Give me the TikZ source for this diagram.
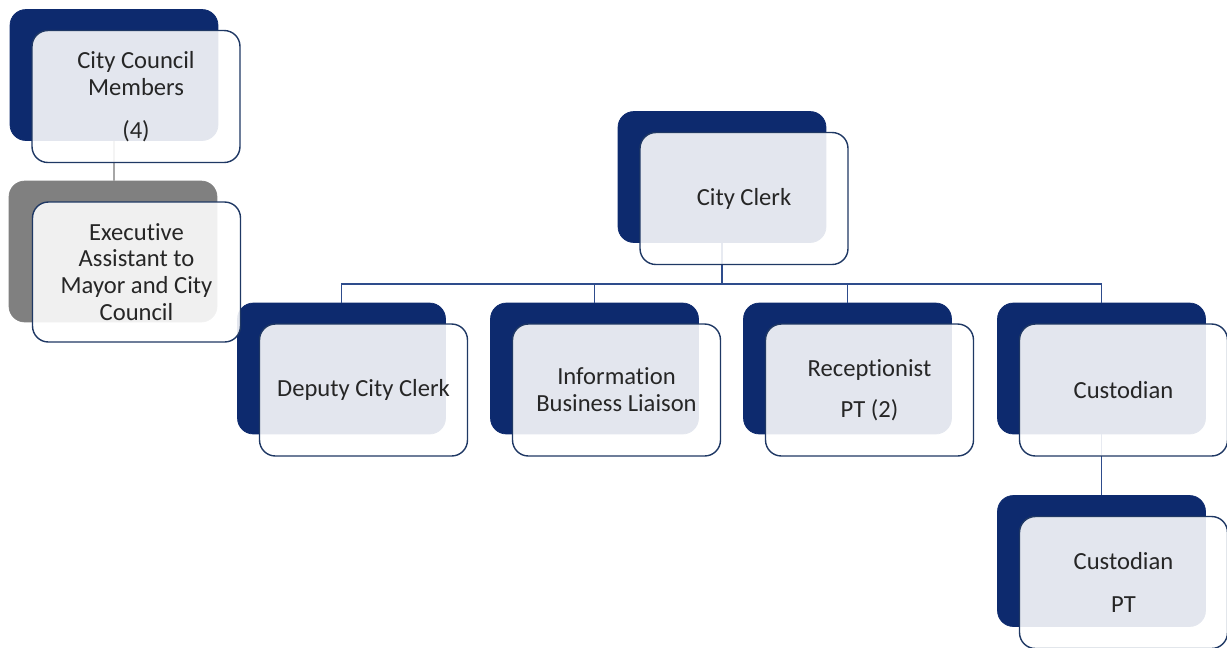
\documentclass[tikz,border=0pt]{standalone}
\usepackage{fontspec}
\setmainfont{Carlito}[Ligatures={NoCommon,NoContextual,NoRequired},Contextuals=NoAlternate]
\usepackage{xcolor}
\usepackage{tikz}
\usetikzlibrary{calc}
\definecolor{navy}{HTML}{0D2A6E}
\definecolor{edge}{HTML}{1F3864}
\definecolor{wire}{HTML}{2E4C8C}
\definecolor{ash}{HTML}{808080}
\definecolor{wireash}{HTML}{A6A6A6}
\definecolor{txt}{HTML}{262626}
\tikzset{
  back/.style={draw=navy, fill=navy, rounded corners=9pt, minimum width=4.16cm, minimum height=2.62cm, inner sep=0pt},
  backash/.style={back, draw=ash, fill=ash, minimum height=2.82cm},
  front/.style={draw=edge, line width=0.8pt, fill=white, fill opacity=0.885, text opacity=1, rounded corners=9pt,
    minimum width=4.16cm, minimum height=2.64cm, inner sep=0pt, align=center, text=txt,
    font=\fontsize{14}{15.3}\selectfont},
  frontash/.style={front, minimum height=2.8cm},
  wire/.style={draw=wire, line width=0.9pt},
  wireg/.style={draw=wireash, line width=0.9pt}
}

\begin{document}
\begin{tikzpicture}[x=0.02cm, y=-0.02cm]
  \useasboundingbox (0,0) rectangle (1227,647);
  % back plates
  \node[back] (councilb) at (114,75) {};
  \node[backash] (execb) at (113,251.5) {};
  \node[back] (clerkb) at (722,177) {};
  \node[back] (depb) at (341.5,368.5) {};
  \node[back] (infob) at (594.5,368.5) {};
  \node[back] (recb) at (847.5,368.5) {};
  \node[back] (custb) at (1101.5,368.5) {};
  \node[back] (custptb) at (1101.5,561) {};
  % connectors
  \coordinate (bus) at (0,284);
  \draw[wireg] (councilb.south) -- (councilb.south |- execb.north);
  \draw[wire] (clerkb.south) -- (clerkb.south |- bus);
  \draw[wire] (depb.north) -- (depb.north |- bus) -- (custb.north |- bus) -- (custb.north);
  \draw[wire] (infob.north) -- (infob.north |- bus);
  \draw[wire] (recb.north) -- (recb.north |- bus);
  \draw[wire] (custb.south) -- (custptb.north);
  % front cards
  \node[front] (council) at ([shift={(22,21.5)}]councilb.center) {City Council\\Members\\[9pt](4)};
  \node[frontash] (exec) at ([shift={(23.5,20.5)}]execb.center) {Executive\\Assistant to\\Mayor and City\\Council};
  \node[front] (clerk) at ([shift={(22,21.5)}]clerkb.center) {City Clerk};
  \node[front] (dep) at ([shift={(22,21.5)}]depb.center) {Deputy City Clerk};
  \node[front] (info) at ([shift={(22,21.5)}]infob.center) {Information\\Business Liaison};
  \node[front] (rec) at ([shift={(22,21.5)}]recb.center) {Receptionist\\[8pt]PT (2)};
  \node[front] (cust) at ([shift={(22,21.5)}]custb.center) {Custodian};
  \node[front] (custpt) at ([shift={(22,21.5)}]custptb.center) {Custodian\\[9pt]PT};
\end{tikzpicture}
\end{document}
